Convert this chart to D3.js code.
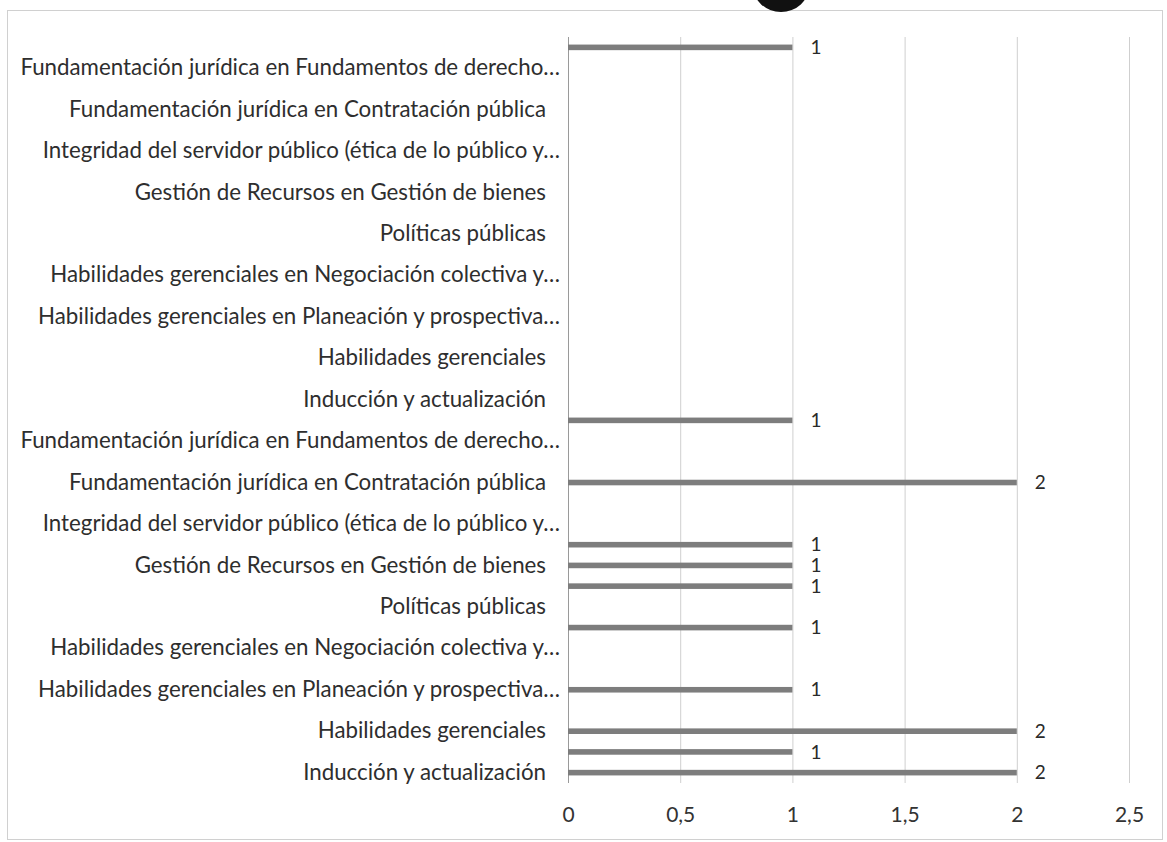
<!DOCTYPE html>
<html>
<head>
<meta charset="utf-8">
<script src="https://cdn.jsdelivr.net/npm/d3@7"></script>
<style>
  html, body { margin: 0; padding: 0; background: #ffffff; }
  svg { display: block; }
</style>
</head>
<body>
<svg id="chart" width="1167" height="842"></svg>
<script>
// ---- data (bottom category first, as in the original bar chart) ----
const courseNames = [
  "Inducción y actualización",
  "Habilidades gerenciales",
  "Habilidades gerenciales en Planeación y prospectiva…",
  "Habilidades gerenciales en Negociación colectiva y…",
  "Políticas públicas",
  "Gestión de Recursos en Gestión de bienes",
  "Integridad del servidor público (ética de lo público y…",
  "Fundamentación jurídica en Contratación pública",
  "Fundamentación jurídica en Fundamentos de derecho…"
];
// 36 category rows: each course appears twice in a block, block repeated twice
const categories = [
  "Inducción y actualización", "Inducción y actualización",
  "Habilidades gerenciales", "Habilidades gerenciales",
  "Habilidades gerenciales en Planeación y prospectiva…", "Habilidades gerenciales en Planeación y prospectiva…",
  "Habilidades gerenciales en Negociación colectiva y…", "Habilidades gerenciales en Negociación colectiva y…",
  "Políticas públicas", "Políticas públicas",
  "Gestión de Recursos en Gestión de bienes", "Gestión de Recursos en Gestión de bienes",
  "Integridad del servidor público (ética de lo público y…", "Integridad del servidor público (ética de lo público y…",
  "Fundamentación jurídica en Contratación pública", "Fundamentación jurídica en Contratación pública",
  "Fundamentación jurídica en Fundamentos de derecho…", "Fundamentación jurídica en Fundamentos de derecho…",
  "Inducción y actualización", "Inducción y actualización",
  "Habilidades gerenciales", "Habilidades gerenciales",
  "Habilidades gerenciales en Planeación y prospectiva…", "Habilidades gerenciales en Planeación y prospectiva…",
  "Habilidades gerenciales en Negociación colectiva y…", "Habilidades gerenciales en Negociación colectiva y…",
  "Políticas públicas", "Políticas públicas",
  "Gestión de Recursos en Gestión de bienes", "Gestión de Recursos en Gestión de bienes",
  "Integridad del servidor público (ética de lo público y…", "Integridad del servidor público (ética de lo público y…",
  "Fundamentación jurídica en Contratación pública", "Fundamentación jurídica en Contratación pública",
  "Fundamentación jurídica en Fundamentos de derecho…", "Fundamentación jurídica en Fundamentos de derecho…"
];
const values = [
  2, 1, 2, null, 1, null, null, 1, null, 1,
  1, 1, null, null, 2, null, null, 1, null, null,
  null, null, null, null, null, null, null, null, null, null,
  null, null, null, null, null, 1
];
const xTicks = [0, 0.5, 1, 1.5, 2, 2.5];
const xTickLabels = ["0", "0,5", "1", "1,5", "2", "2,5"];

// ---- layout ----
const svg = d3.select("#chart");
const plot = { left: 568, right: 1129, top: 37, bottom: 783 };
const font = "Lato, 'Open Sans', sans-serif";

const x = d3.scaleLinear().domain([0, 2.5]).range([plot.left, plot.right]);
const idx = d3.range(categories.length);
const y = d3.scaleBand().domain(idx).range([plot.bottom, plot.top])
  .paddingInner(0.73).paddingOuter(0.365);

// chart border
svg.append("rect").attr("x", 7.5).attr("y", 10.5).attr("width", 1155).attr("height", 829)
  .attr("fill", "#fff").attr("stroke", "#d0d0d0").attr("stroke-width", 1);

// scan artifact (punch hole) at the top
svg.append("ellipse").attr("cx", 781).attr("cy", -14).attr("rx", 28).attr("ry", 26)
  .attr("fill", "#111");

// gridlines
svg.append("g").selectAll("line").data(xTicks.slice(1)).join("line")
  .attr("x1", d => x(d) + 0.5).attr("x2", d => x(d) + 0.5)
  .attr("y1", plot.top).attr("y2", plot.bottom)
  .attr("stroke", "#cfcfcf").attr("stroke-width", 1);

// x axis tick labels
const xAxis = d3.axisBottom(x).tickValues(xTicks)
  .tickFormat((d, i) => xTickLabels[i]).tickSize(0).tickPadding(0);
const gx = svg.append("g").attr("transform", `translate(0,${plot.bottom})`).call(xAxis);
gx.select(".domain").remove();
gx.selectAll("text").attr("dy", null).attr("y", 39)
  .attr("font-family", font).attr("font-size", 21).attr("fill", "#333");

// y axis (labels every other category)
const yAxis = d3.axisLeft(y).tickSize(0).tickPadding(0)
  .tickValues(idx.filter(i => i % 2 === 0))
  .tickFormat(i => categories[i]);
const gy = svg.append("g").attr("transform", `translate(${plot.left},0)`).call(yAxis);
gy.select(".domain").remove();
gy.selectAll("text")
  .attr("x", i => categories[i].endsWith("…") ? -8 : -22)
  .attr("font-family", font).attr("font-size", 22.3).attr("fill", "#2e2e2e");

// vertical axis line
svg.append("line").attr("x1", plot.left + 0.5).attr("x2", plot.left + 0.5)
  .attr("y1", plot.top).attr("y2", plot.bottom)
  .attr("stroke", "#9a9a9a").attr("stroke-width", 1);

// bars
const barData = idx.filter(i => values[i] != null);
svg.append("g").selectAll("rect").data(barData).join("rect")
  .attr("x", x(0)).attr("y", i => y(i))
  .attr("width", i => x(values[i]) - x(0)).attr("height", y.bandwidth())
  .attr("fill", "#7d7d7d");

// data labels
svg.append("g").selectAll("text").data(barData).join("text")
  .attr("x", i => x(values[i]) + 18).attr("y", i => y(i) + y.bandwidth() / 2)
  .attr("dy", "0.35em")
  .attr("font-family", font).attr("font-size", 19).attr("fill", "#2a2a2a")
  .text(i => values[i]);
</script>
</body>
</html>
